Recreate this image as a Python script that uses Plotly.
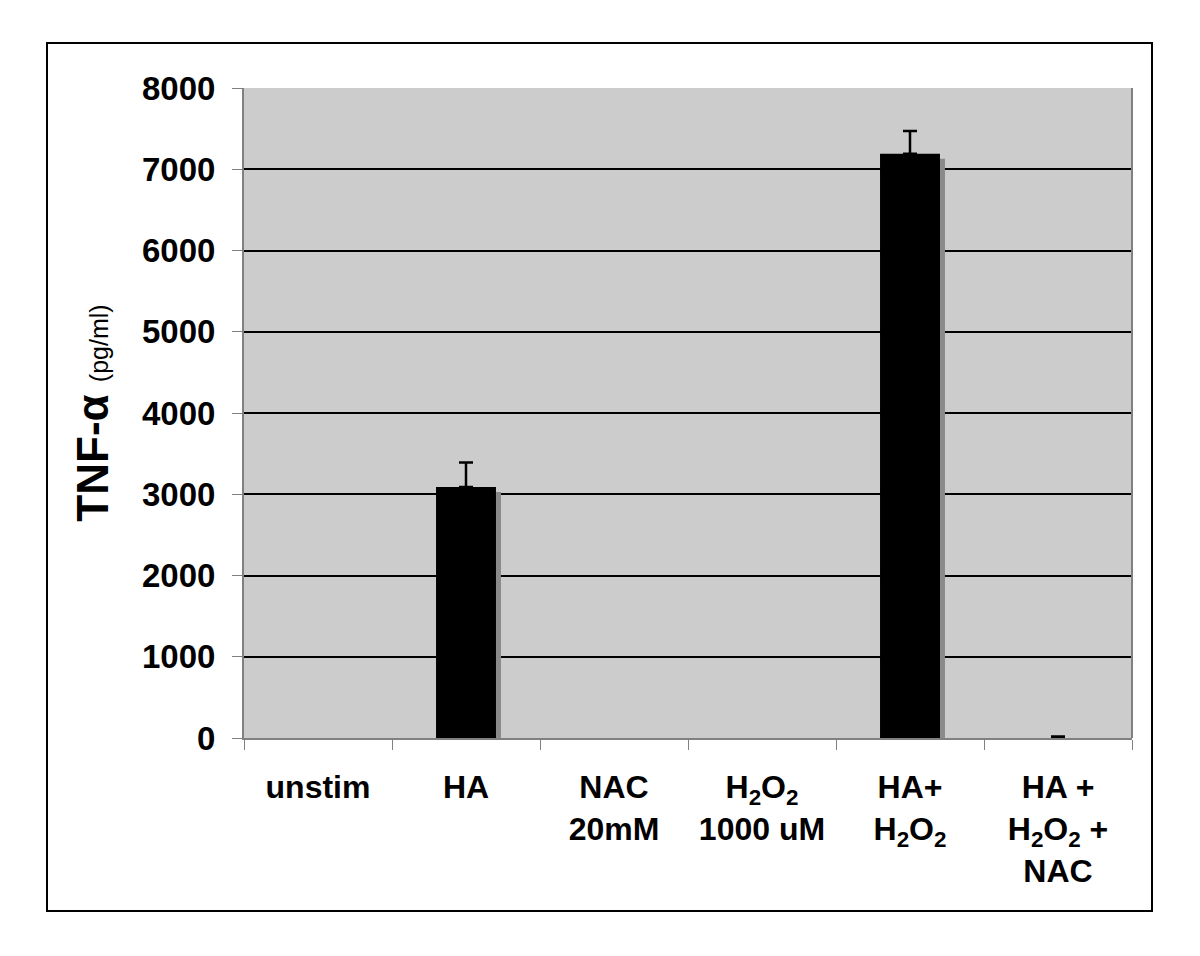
import plotly.graph_objects as go

categories = ["unstim", "HA", "NAC 20mM", "H2O2 1000 uM", "HA+H2O2", "HA+H2O2+NAC"]
tick_labels = ["unstim", "HA", "NAC<br>20mM", "H<sub>2</sub>O<sub>2</sub><br>1000 uM",
               "HA+<br>H<sub>2</sub>O<sub>2</sub>", "HA +<br>H<sub>2</sub>O<sub>2</sub> +<br>NAC"]
values = [0, 3090, 0, 0, 7190, 0]
errors = [0, 300, 0, 0, 280, 20]
y_ticks = [0, 1000, 2000, 3000, 4000, 5000, 6000, 7000, 8000]

FONT = "Liberation Sans, Arial, sans-serif"
L, R, T, B = 244, 68, 88, 218
W, H = 1200, 956
pw, ph = W - L - R, H - T - B

bar_w = 0.405
shadow_dx = 5 / (pw / 6)
shadow_dy = 5 / (ph / 8000)
shadow_vals = [max(0, v - shadow_dy) if v > 100 else 0 for v in values]

err_x = [c for c, e in zip(categories, errors) if e > 0]
err_y = [v for v, e in zip(values, errors) if e > 0]
err_v = [e for e in errors if e > 0]

fig = go.Figure()
fig.add_trace(go.Bar(
    x=categories, y=shadow_vals, width=bar_w, offset=-bar_w / 2 + shadow_dx,
    marker=dict(color="#8a8a8a", line=dict(width=0)), hoverinfo="skip", showlegend=False))
fig.add_trace(go.Bar(
    x=categories, y=values, width=bar_w, offset=-bar_w / 2,
    marker=dict(color="black", line=dict(width=0)), showlegend=False))
fig.add_trace(go.Scatter(
    x=err_x, y=err_y, mode="markers", marker=dict(size=1, opacity=0),
    error_y=dict(type="data", array=err_v, arrayminus=[0] * len(err_v), symmetric=False,
                 color="black", thickness=2.5, width=7, visible=True),
    hoverinfo="skip", showlegend=False))

fig.update_layout(
    width=W, height=H, barmode="overlay",
    margin=dict(l=L, r=R, t=T, b=B),
    paper_bgcolor="white", plot_bgcolor="#cccccc",
    font=dict(family=FONT, color="black"),
    xaxis=dict(
        type="category", tickmode="array", tickvals=categories, ticktext=tick_labels,
        tickfont=dict(family=FONT, size=32, color="black", weight="bold"),
        showline=True, linecolor="#808080", linewidth=2, mirror=False,
        ticks="outside", tickson="boundaries", ticklen=10, tickcolor="#808080", tickwidth=1,
        ticklabelstandoff=20, showgrid=False, range=[-0.5, 5.5]),
    yaxis=dict(
        range=[0, 8000], tickmode="array", tickvals=y_ticks,
        tickfont=dict(family=FONT, size=33, color="black", weight="bold"),
        showgrid=True, gridcolor="black", gridwidth=2,
        showline=True, linecolor="#808080", linewidth=2,
        ticks="outside", ticklen=10, tickcolor="#808080", tickwidth=1,
        ticklabelstandoff=10, zeroline=False,
        title=dict(text="<b>TNF-α</b> <span style='font-size:25px'>(pg/ml)</span>",
                   font=dict(family=FONT, size=44, color="black"), standoff=20)),
    shapes=[
        dict(type="rect", xref="paper", yref="paper",
             x0=(47 - L) / pw, x1=(1152 - L) / pw,
             y0=(H - B - 911) / ph, y1=(H - B - 43) / ph,
             line=dict(color="black", width=2), fillcolor="rgba(0,0,0,0)", layer="below"),
        dict(type="line", xref="paper", yref="paper", x0=1, x1=1, y0=0, y1=1,
             line=dict(color="#808080", width=2)),
    ],
)

fig.write_html("out.html", config={"displayModeBar": False},
               post_script="document.body.style.margin='0';document.body.style.overflow='hidden';")
